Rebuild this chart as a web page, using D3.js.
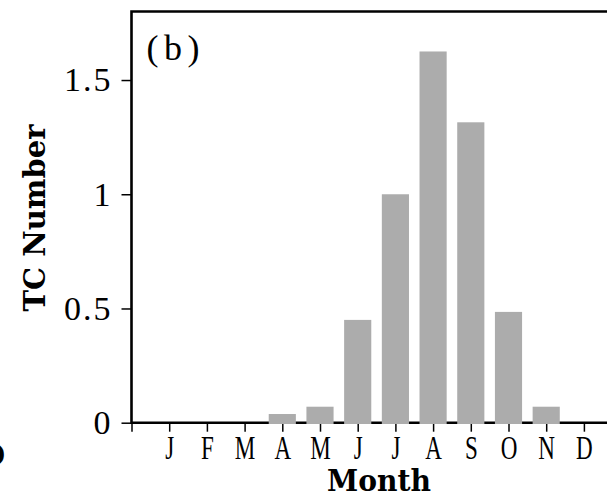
<!DOCTYPE html>
<html>
<head>
<meta charset="utf-8">
<script src="https://cdn.jsdelivr.net/npm/d3@7"></script>
<style>
  body { margin: 0; background: #fff; }
  svg { display: block; }
</style>
</head>
<body>
<script>
// monthly mean TC number, panel (b)
var months = ["J", "F", "M", "A", "M", "J", "J", "A", "S", "O", "N", "D"];
var tcNumber = [0, 0, 0, 0.038, 0.07, 0.45, 1.0, 1.625, 1.315, 0.485, 0.07, 0];
var yTicks = [0, 0.5, 1, 1.5];
var yTickLabels = ["0", "0.5", "1", "1.5"];

var width = 607, height = 495;
var plotLeft = 131.5, plotTop = 11.5, plotBottom = 422.7;

var svg = d3.select("body").append("svg")
            .attr("width", width)
            .attr("height", height);

var x = d3.scaleLinear().domain([0, 13]).range([plotLeft, plotLeft + 13 * 37.7]);
var y = d3.scaleLinear().domain([0, 1.8]).range([plotBottom, plotTop]);

// ticks
var yAxis = d3.axisLeft(y)
              .tickValues(yTicks)
              .tickFormat(function (d, i) { return yTickLabels[i]; })
              .tickSize(10)
              .tickSizeOuter(0)
              .tickPadding(9);

var gy = svg.append("g")
            .attr("transform", "translate(" + plotLeft + ",0)")
            .call(yAxis);
gy.select(".domain").remove();
gy.selectAll("line").attr("stroke", "#000").attr("stroke-width", 1.5);
gy.selectAll("text")
  .attr("font-family", "Liberation Serif, serif")
  .attr("font-size", 34)
  .attr("letter-spacing", 2)
  .attr("fill", "#000");

var monthTicks = d3.range(0, 13);
var xAxis = d3.axisBottom(x)
              .tickValues(monthTicks)
              .tickFormat(function (d) { return d === 0 ? "" : months[d - 1]; })
              .tickSize(9)
              .tickSizeOuter(0);

var gx = svg.append("g")
            .attr("transform", "translate(0," + plotBottom + ")")
            .call(xAxis);
gx.select(".domain").remove();
gx.selectAll("line").attr("stroke", "#000").attr("stroke-width", 1.5);
gx.selectAll("text")
  .attr("font-family", "Liberation Serif, serif")
  .attr("font-size", 33)
  .attr("fill", "#000")
  .attr("y", 36)
  .attr("dy", null)
  .attr("transform", "scale(0.7,1)");

// frame
svg.append("path")
   .attr("d", "M" + plotLeft + "," + plotBottom + "V" + plotTop + "H" + x(13) + "V" + plotBottom + "Z")
   .attr("fill", "none")
   .attr("stroke", "#000")
   .attr("stroke-width", 2.6);

// bars on top of the baseline
var barW = x(0.72) - x(0);
svg.selectAll("rect.bar")
   .data(tcNumber)
   .enter()
   .append("rect")
   .attr("class", "bar")
   .attr("x", function (d, i) { return x(i + 1) - barW / 2; })
   .attr("y", function (d) { return y(d); })
   .attr("width", barW)
   .attr("height", function (d) { return plotBottom + 1.3 - y(d); })
   .attr("fill", "#acacac")
   .style("display", function (d) { return d > 0 ? null : "none"; });

// labels
svg.append("text")
   .attr("x", 146.5)
   .attr("y", 60)
   .attr("font-family", "Liberation Serif, serif")
   .attr("font-size", 36)
   .attr("textLength", 53)
   .attr("lengthAdjust", "spacing")
   .text("(b)");

svg.append("text")
   .attr("x", 379)
   .attr("y", 491)
   .attr("text-anchor", "middle")
   .attr("font-family", "DejaVu Serif, serif")
   .attr("font-weight", "bold")
   .attr("font-size", 29)
   .attr("textLength", 104)
   .attr("lengthAdjust", "spacingAndGlyphs")
   .text("Month");

svg.append("text")
   .attr("transform", "translate(45,218) rotate(-90)")
   .attr("text-anchor", "middle")
   .attr("font-family", "DejaVu Serif, serif")
   .attr("font-weight", "bold")
   .attr("font-size", 30)
   .attr("textLength", 187)
   .attr("lengthAdjust", "spacingAndGlyphs")
   .text("TC Number");

// edge of the neighbouring panel's label
svg.append("text")
   .attr("x", 6)
   .attr("y", 462)
   .attr("text-anchor", "end")
   .attr("font-family", "DejaVu Serif, serif")
   .attr("font-weight", "bold")
   .attr("font-size", 24)
   .text(")");
</script>
</body>
</html>
